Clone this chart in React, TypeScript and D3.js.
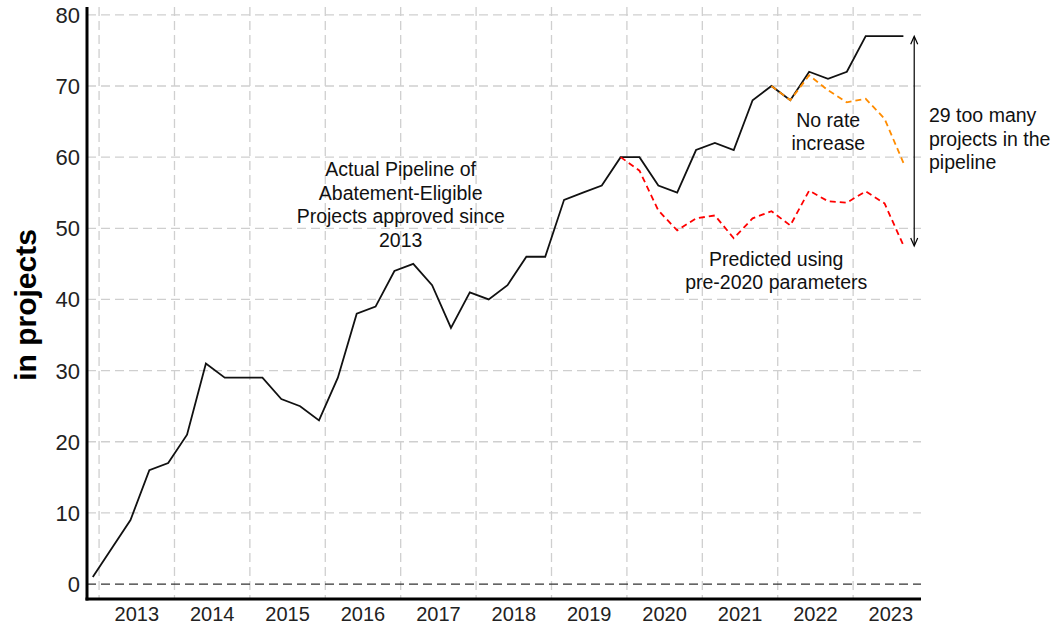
import React from "react";
import * as d3 from "d3";

// Quarterly observation months (YYYY-MM)
const months: string[] = [
  "2012-12","2013-03","2013-06","2013-09","2013-12","2014-03","2014-06","2014-09","2014-12",
  "2015-03","2015-06","2015-09","2015-12","2016-03","2016-06","2016-09","2016-12",
  "2017-03","2017-06","2017-09","2017-12","2018-03","2018-06","2018-09","2018-12",
  "2019-03","2019-06","2019-09","2019-12","2020-03","2020-06","2020-09","2020-12",
  "2021-03","2021-06","2021-09","2021-12","2022-03","2022-06","2022-09","2022-12",
  "2023-03","2023-06","2023-09",
];

const actual: number[] = [
  1, 5, 9, 16, 17, 21, 31, 29, 29, 29, 26, 25, 23, 29, 38, 39, 44, 45, 42, 36, 41, 40,
  42, 46, 46, 54, 55, 56, 60, 60, 56, 55, 61, 62, 61, 68, 70, 68, 72, 71, 72, 77, 77, 77,
];

// Predicted using pre-2020 parameters (starts 2019-12)
const predictedStart = 28;
const predicted: number[] = [
  60, 58.1, 52.5, 49.7, 51.4, 51.8, 48.6, 51.4, 52.4, 50.4, 55.3, 53.8, 53.6, 55.2, 53.5, 47.6,
];

// No rate increase (starts 2021-12)
const noRateStart = 36;
const noRate: number[] = [70, 68, 71.5, 69.4, 67.7, 68.2, 65.4, 59.2];

const yearLabels: number[] = [2013, 2014, 2015, 2016, 2017, 2018, 2019, 2020, 2021, 2022, 2023];
const yTicks: number[] = [0, 10, 20, 30, 40, 50, 60, 70, 80];

const gapTop = 77;
const gapBottom = 47.5;

const toYear = (m: string) => {
  const [y, mo] = m.split("-").map(Number);
  return y + (mo - 1) / 12;
};

export default function App() {
  const W = 1062, H = 625;
  const left = 87, right = 921, top = 7, bottom = 599;
  const x = d3.scaleLinear().domain([2012.84, 2023.9]).range([left, right]);
  const y = d3.scaleLinear().domain([-2.1, 81.1]).range([bottom, top]);

  const pts = months.map((m, i) => ({ t: toYear(m), v: actual[i] }));
  const predPts = predicted.map((v, i) => ({ t: toYear(months[predictedStart + i]), v }));
  const noRatePts = noRate.map((v, i) => ({ t: toYear(months[noRateStart + i]), v }));

  const line = d3.line<{ t: number; v: number }>().x(d => x(d.t)).y(d => y(d.v));

  const font = "'Liberation Sans', Arial, sans-serif";
  const arrowX = x(2023.81);
  const aTop = y(gapTop);
  const aBot = y(gapBottom);

  return (
    <svg width={W} height={H} style={{ position: "absolute", left: 0, top: 0, background: "#fff" }}>
      {/* grid */}
      {yTicks.filter(t => t !== 0).map(t => (
        <line key={"h" + t} x1={left} x2={right} y1={y(t)} y2={y(t)} stroke="#cfcfcf" strokeWidth={1.3} strokeDasharray="9,5" />
      ))}
      {yearLabels.map(yr => (
        <line key={"v" + yr} x1={x(yr)} x2={x(yr)} y1={top} y2={bottom} stroke="#cfcfcf" strokeWidth={1.3} strokeDasharray="9,5" />
      ))}
      <line x1={left} x2={right} y1={y(0)} y2={y(0)} stroke="#333" strokeWidth={1.3} strokeDasharray="9,5" />

      {/* series */}
      <path d={line(pts) || ""} fill="none" stroke="#111" strokeWidth={1.8} strokeLinejoin="miter" />
      <path d={line(noRatePts) || ""} fill="none" stroke="#ff8c00" strokeWidth={1.8} strokeDasharray="6,4" />
      <path d={line(predPts) || ""} fill="none" stroke="#ff0000" strokeWidth={1.8} strokeDasharray="6,4" />

      {/* axes */}
      <line x1={left} x2={left} y1={top} y2={bottom + 1.5} stroke="#000" strokeWidth={3} />
      <line x1={left - 1.5} x2={right} y1={bottom} y2={bottom} stroke="#000" strokeWidth={3} />

      {yTicks.map(t => (
        <text key={"yt" + t} x={left - 7} y={y(t)} dy="0.36em" textAnchor="end" fontFamily={font} fontSize={22} fill="#222">{t}</text>
      ))}
      {yearLabels.map(yr => (
        <text key={"xt" + yr} x={x(yr + 0.5)} y={621} textAnchor="middle" fontFamily={font} fontSize={20} fill="#222">{yr}</text>
      ))}

      <text transform={`translate(36,${305}) rotate(-90)`} textAnchor="middle" fontFamily={font} fontWeight="bold" fontSize={30} fill="#000">in projects</text>

      {/* double arrow */}
      <line x1={arrowX} x2={arrowX} y1={aTop + 1} y2={aBot - 1} stroke="#000" strokeWidth={1.2} />
      <path d={`M${arrowX - 3.5},${aTop + 8} L${arrowX},${aTop} L${arrowX + 3.5},${aTop + 8}`} fill="none" stroke="#000" strokeWidth={1.2} />
      <path d={`M${arrowX - 3.5},${aBot - 8} L${arrowX},${aBot} L${arrowX + 3.5},${aBot - 8}`} fill="none" stroke="#000" strokeWidth={1.2} />

      {/* annotations */}
      <text textAnchor="middle" fontFamily={font} fontSize={19.5} fill="#111">
        <tspan x={x(2017)} y={176}>Actual Pipeline of</tspan>
        <tspan x={x(2017)} y={199.5}>Abatement-Eligible</tspan>
        <tspan x={x(2017)} y={223}>Projects approved since</tspan>
        <tspan x={x(2017)} y={246.5}>2013</tspan>
      </text>
      <text textAnchor="middle" fontFamily={font} fontSize={19.5} fill="#111">
        <tspan x={x(2022.67)} y={127}>No rate</tspan>
        <tspan x={x(2022.67)} y={150}>increase</tspan>
      </text>
      <text textAnchor="middle" fontFamily={font} fontSize={19.5} fill="#111">
        <tspan x={x(2021.98)} y={265.5}>Predicted using</tspan>
        <tspan x={x(2021.98)} y={288.5}>pre-2020 parameters</tspan>
      </text>
      <text textAnchor="start" fontFamily={font} fontSize={19.5} fill="#111">
        <tspan x={929} y={122}>29 too many</tspan>
        <tspan x={929} y={145.5}>projects in the</tspan>
        <tspan x={929} y={169}>pipeline</tspan>
      </text>
    </svg>
  );
}
